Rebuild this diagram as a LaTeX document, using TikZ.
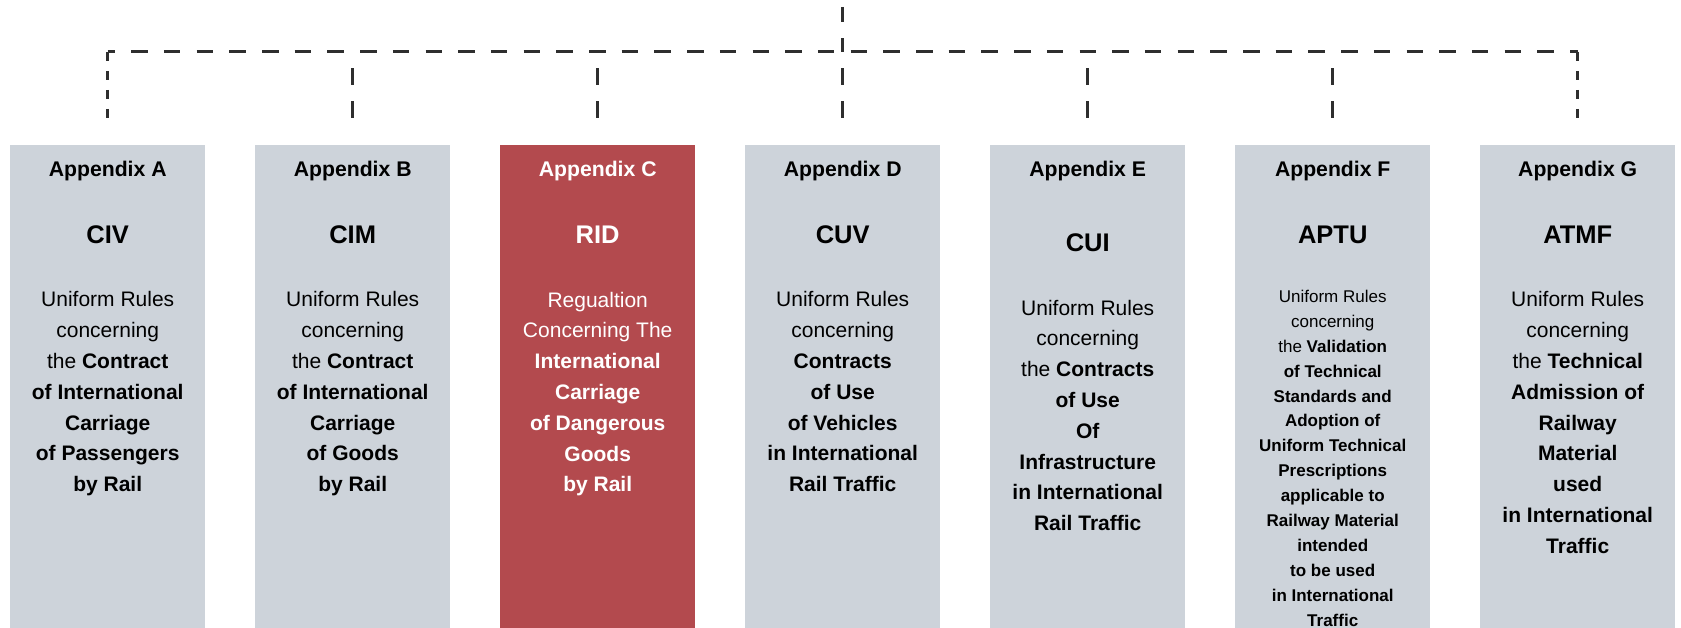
\documentclass[tikz,border=0pt]{standalone}
\usepackage{fontspec}
\setmainfont{Liberation Sans}
\usetikzlibrary{positioning, calc}
\definecolor{boxGray}{HTML}{CDD3DA}
\definecolor{ridRed}{HTML}{B34A4E}
\definecolor{lineDark}{HTML}{2E2E2E}

\tikzset{
    apbox/.style={fill=boxGray, draw=none, minimum width=195pt, minimum height=483.3pt, inner sep=0pt},
    aphead/.style={anchor=base, inner sep=0pt, font=\fontsize{21.2}{25}\selectfont\bfseries},
    aptitle/.style={anchor=base, inner sep=0pt, font=\fontsize{25.5}{30}\selectfont\bfseries},
    apbody/.style={anchor=north, inner sep=0pt, align=center, font=\fontsize{21}{30.8}\selectfont},
    apsmall/.style={apbody, font=\fontsize{17}{24.9}\selectfont},
    ridtext/.style={text=white},
    busline/.style={lineDark, line width=3pt, dash pattern=on 16.5pt off 16.2pt, dash phase=9.2pt},
    dropshort/.style={lineDark, line width=3pt, dash pattern=on 9pt off 10pt},
    droplong/.style={lineDark, line width=3pt, dash pattern=on 16.5pt off 16.5pt}
}

\begin{document}
\begin{tikzpicture}[x=1pt, y=-1pt]
    \useasboundingbox (0,0) rectangle (1681,628);

    % Appendix boxes
    \node[apbox, anchor=north] (a) at (107.7,144.7) {};
    \node[apbox, right=49.6pt of a] (b) {};
    \node[apbox, fill=ridRed, right=49.6pt of b] (c) {};
    \node[apbox, right=49.6pt of c] (d) {};
    \node[apbox, right=49.6pt of d] (e) {};
    \node[apbox, right=49.6pt of e] (f) {};
    \node[apbox, right=49.6pt of f] (g) {};

    % Appendix A
    \node[aphead] (a-head) at ([yshift=-32pt]a.north) {Appendix A};
    \node[aptitle] (a-title) at ([yshift=-99.3pt]a.north) {CIV};
    \node[apbody] (a-body) at ([yshift=-146.7pt]a.north) {Uniform Rules\\concerning\\the \textbf{Contract}\\\textbf{of International}\\\textbf{Carriage}\\\textbf{of Passengers}\\\textbf{by Rail}};

    % Appendix B
    \node[aphead] (b-head) at ([yshift=-32pt]b.north) {Appendix B};
    \node[aptitle] (b-title) at ([yshift=-99.3pt]b.north) {CIM};
    \node[apbody] (b-body) at ([yshift=-146.7pt]b.north) {Uniform Rules\\concerning\\the \textbf{Contract}\\\textbf{of International}\\\textbf{Carriage}\\\textbf{of Goods}\\\textbf{by Rail}};

    % Appendix C (highlighted)
    \node[aphead, ridtext] (c-head) at ([yshift=-32pt]c.north) {Appendix C};
    \node[aptitle, ridtext] (c-title) at ([yshift=-99.3pt]c.north) {RID};
    \node[apbody, ridtext] (c-body) at ([yshift=-147pt]c.north) {Regualtion\\Concerning The\\\textbf{International}\\\textbf{Carriage}\\\textbf{of Dangerous}\\\textbf{Goods}\\\textbf{by Rail}};

    % Appendix D
    \node[aphead] (d-head) at ([yshift=-32pt]d.north) {Appendix D};
    \node[aptitle] (d-title) at ([yshift=-99.3pt]d.north) {CUV};
    \node[apbody] (d-body) at ([yshift=-146.7pt]d.north) {Uniform Rules\\concerning\\\textbf{Contracts}\\\textbf{of Use}\\\textbf{of Vehicles}\\\textbf{in International}\\\textbf{Rail Traffic}};

    % Appendix E
    \node[aphead] (e-head) at ([yshift=-32pt]e.north) {Appendix E};
    \node[aptitle] (e-title) at ([yshift=-107.3pt]e.north) {CUI};
    \node[apbody] (e-body) at ([yshift=-155pt]e.north) {Uniform Rules\\concerning\\the \textbf{Contracts}\\\textbf{of Use}\\\textbf{Of}\\\textbf{Infrastructure}\\\textbf{in International}\\\textbf{Rail Traffic}};

    % Appendix F (smaller text)
    \node[aphead] (f-head) at ([yshift=-32pt]f.north) {Appendix F};
    \node[aptitle] (f-title) at ([yshift=-99.3pt]f.north) {APTU};
    \node[apsmall] (f-body) at ([yshift=-145.2pt]f.north) {Uniform Rules\\concerning\\the \textbf{Validation}\\\textbf{of Technical}\\\textbf{Standards and}\\\textbf{Adoption of}\\\textbf{Uniform Technical}\\\textbf{Prescriptions}\\\textbf{applicable to}\\\textbf{Railway Material}\\\textbf{intended}\\\textbf{to be used}\\\textbf{in International}\\\textbf{Traffic}};

    % Appendix G
    \node[aphead] (g-head) at ([yshift=-32pt]g.north) {Appendix G};
    \node[aptitle] (g-title) at ([yshift=-99.3pt]g.north) {ATMF};
    \node[apbody] (g-body) at ([yshift=-146.7pt]g.north) {Uniform Rules\\concerning\\the \textbf{Technical}\\\textbf{Admission of}\\\textbf{Railway}\\\textbf{Material}\\\textbf{used}\\\textbf{in International}\\\textbf{Traffic}};

    % Dashed tree lines
    \coordinate (top) at (d.north |- 0,0);
    \coordinate (bus) at (d.north |- 0,52);
    \draw[droplong, dash pattern=on 15.5pt off 16pt, dash phase=24.5pt] (top) -- (bus);
    \draw[busline] (a.north |- bus) -- (g.north |- bus);
    \draw[dropshort] (a.north |- bus) -- ([yshift=26.7pt]a.north);
    \draw[dropshort] (g.north |- bus) -- ([yshift=26.7pt]g.north);
    \foreach \n in {b, c, d, e, f}
        \draw[droplong] ([yshift=26.7pt]\n.north) -- (\n.north |- bus);
\end{tikzpicture}
\end{document}
